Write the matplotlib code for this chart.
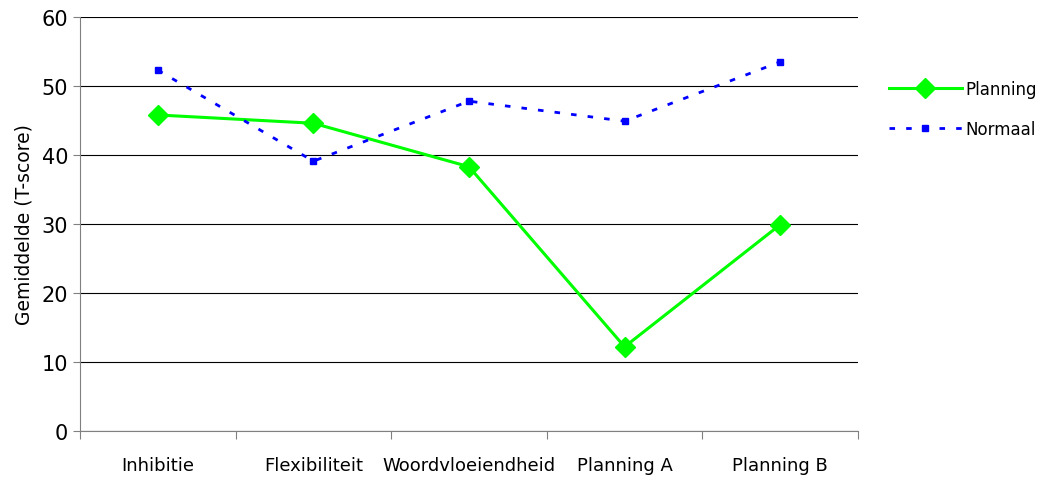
import matplotlib.pyplot as plt

# mean T-scores per test
categories = ['Inhibitie', 'Flexibiliteit', 'Woordvloeiendheid', 'Planning A', 'Planning B']
planning = [45.8, 44.6, 38.3, 12.2, 29.9]
normaal = [52.3, 39.1, 47.8, 44.9, 53.5]

plt.rcParams['font.family'] = ['DejaVu Sans']

fig = plt.figure(figsize=(10.48, 4.81), dpi=100)
ax = fig.add_axes([0.0763, 0.1019, 0.7424, 0.8607])

x = range(len(categories))
ax.plot(x, planning, color='#00ff00', lw=2.2, marker='D', ms=10, label='Planning')
ax.plot(x, normaal, color='#0000ff', lw=2, ls=(0, (2, 4)), marker='s', ms=5, label='Normaal')

ax.set_xlim(-0.5, len(categories) - 0.5)
ax.set_ylim(0, 60)
ax.set_yticks(range(0, 61, 10))
ax.yaxis.grid(True, color='black', lw=0.8)
ax.set_axisbelow(True)

# category labels between boundary ticks
ax.set_xticks([i - 0.5 for i in range(len(categories) + 1)])
ax.set_xticklabels([])
ax.set_xticks(list(x), minor=True)
ax.set_xticklabels(categories, minor=True, fontsize=13)
ax.tick_params(axis='x', which='minor', length=0, pad=18)
ax.tick_params(axis='x', which='major', length=6, color='#808080', direction='out')
ax.tick_params(axis='y', labelsize=15, length=5, color='#808080', direction='out')

for side in ['top', 'right']:
    ax.spines[side].set_visible(False)
ax.spines['left'].set_color('#808080')
ax.spines['bottom'].set_color('#808080')

ax.set_ylabel('Gemiddelde (T-score)', fontsize=13.5)
ax.yaxis.set_label_coords(-0.06, 0.5)

ax.legend(loc='upper left', bbox_to_anchor=(1.02, 0.885), frameon=False, fontsize=12,
          handlelength=4.4, handletextpad=0.2, labelspacing=1.35)

fig.savefig('out.png', dpi=100)
